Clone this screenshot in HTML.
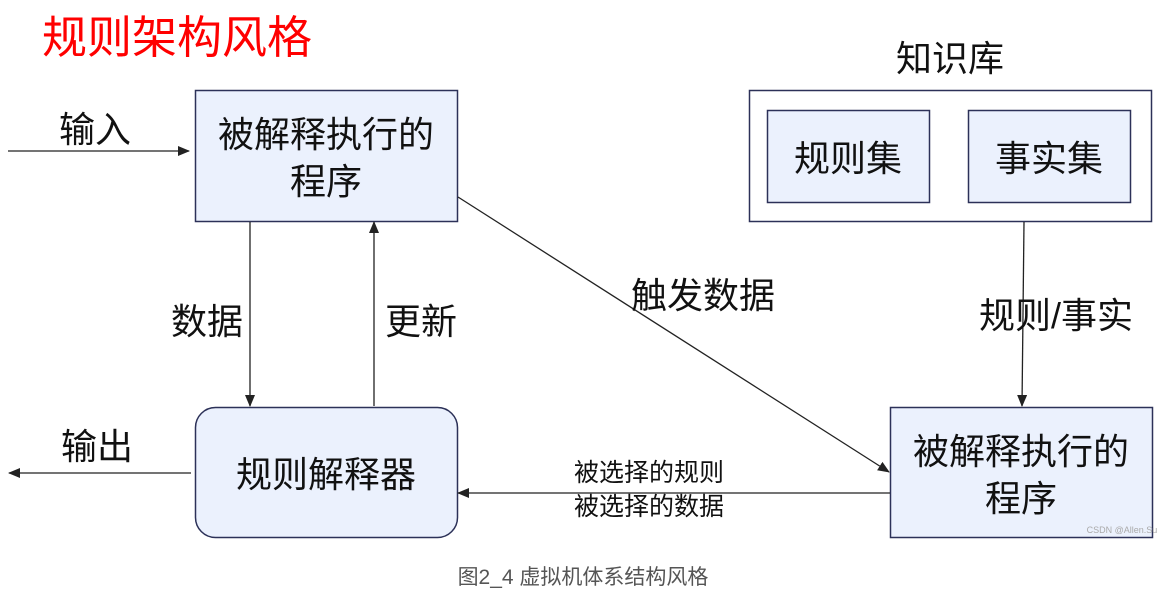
<!DOCTYPE html>
<html><head><meta charset="utf-8"><style>
body{margin:0;background:#fff;}
svg{display:block;font-family:"Liberation Sans","Noto Sans CJK SC",sans-serif;}
</style></head><body>
<svg width="1162" height="592" viewBox="0 0 1162 592" xmlns="http://www.w3.org/2000/svg">
<defs><marker id="a" markerWidth="12" markerHeight="10" refX="11" refY="5" orient="auto" markerUnits="userSpaceOnUse"><path d="M0,0 L12,5 L0,10 z" fill="#222"/></marker></defs>
<text x="42" y="53" font-size="45" fill="#ff0000">规则架构风格</text>
<g fill="#ebf1fd" stroke="#2c3158" stroke-width="1.5">
<rect x="195.5" y="90.5" width="262" height="131"/>
<rect x="195.5" y="407.5" width="262" height="130" rx="20"/>
<rect x="890.5" y="407.5" width="262" height="130"/>
</g>
<rect x="749.5" y="90.5" width="402" height="131" fill="#fff" stroke="#2c3158" stroke-width="1.5"/>
<rect x="767.5" y="110.5" width="162" height="92" fill="#ebf1fd" stroke="#2c3158" stroke-width="1.5"/>
<rect x="968.5" y="110.5" width="162" height="92" fill="#ebf1fd" stroke="#2c3158" stroke-width="1.5"/>
<g stroke="#222" stroke-width="1.3" fill="none" marker-end="url(#a)">
<line x1="8" y1="151" x2="189" y2="151"/>
<line x1="250" y1="222" x2="250" y2="406"/>
<line x1="374" y1="406" x2="374" y2="222"/>
<line x1="458" y1="197" x2="889" y2="472"/>
<line x1="1024" y1="222" x2="1022" y2="406"/>
<line x1="890" y1="493" x2="458" y2="493"/>
<line x1="191" y1="473" x2="9" y2="473"/>
</g>
<g fill="#111" font-size="36" text-anchor="middle">
<text x="326" y="147">被解释执行的</text>
<text x="326" y="194">程序</text>
<text x="326" y="487">规则解释器</text>
<text x="1021" y="464">被解释执行的</text>
<text x="1021" y="511">程序</text>
<text x="848" y="171">规则集</text>
<text x="1049" y="171">事实集</text>
<text x="950" y="71">知识库</text>
<text x="95" y="142">输入</text>
<text x="97" y="459">输出</text>
<text x="207" y="334">数据</text>
<text x="421" y="334">更新</text>
<text x="703" y="308">触发数据</text>
<text x="1056" y="328">规则/事实</text>
</g>
<g fill="#111" font-size="25" text-anchor="middle">
<text x="649" y="481">被选择的规则</text>
<text x="649" y="515">被选择的数据</text>
</g>
<text x="1122" y="533" font-size="9" fill="#aaa" text-anchor="middle">CSDN @Allen.Su</text>
<text x="583" y="584" font-size="21" fill="#555" text-anchor="middle">图2_4 虚拟机体系结构风格</text>
</svg>
</body></html>
